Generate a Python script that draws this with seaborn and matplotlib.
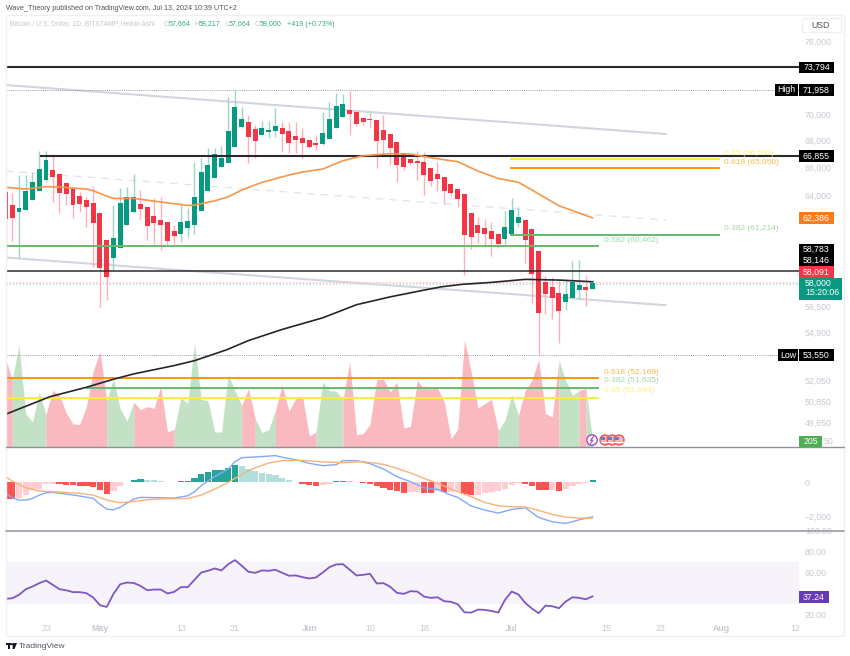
import matplotlib
matplotlib.use("Agg")
import matplotlib.pyplot as plt
from matplotlib.patches import Rectangle, Circle, Polygon
import seaborn as sns

# ---------- data ----------
opens = [64240,63285,62810,62950,63640,64310,65080,65810,65520,64885,64480,63905,63640,63405,62725,60860,59650,60305,61895,62810,63335,63165,62495,62260,62100,61480,
         61295,61690,61895,62880,64290,65245,66050,66350,67550,69075,69415,68875,68460,68665,68745,68950,68745,68355,68200,68050,67800,67750,68150,68950,69800,70370,
         70240,69770,69645,69590,68820,68490,67900,67050,66600,66500,66425,65935,65540,65320,64790,64455,64095,62700,61895,61665,61480,61255,60930,61275,62055,62260,
         61600,60105,58100,57735,57390,56795,57030,57540,57735,57664]
closes = [62310,62400,63090,64310,64960,65860,66550,65275,64165,64050,63305,63355,63165,62010,58990,58425,61015,63450,63855,63830,62980,61825,62010,61915,60810,61140,
          62100,62150,63855,65665,66200,66975,66675,68765,70630,69645,68300,67995,68950,68820,69130,68535,67850,68050,67800,67550,67700,68565,69690,70710,70845,70060,
          69280,69415,69565,67995,68050,67430,66180,66050,66350,66305,65445,65030,65130,64290,64120,63710,61225,61085,61365,61295,60950,60590,61755,62910,62425,60880,
          58580,56120,57305,57050,56245,57305,58080,57885,57540,58000]
highs = [64650,64145,65445,65445,65665,67225,67225,67000,65520,64885,64480,64240,63875,64670,62725,60860,63285,64505,64600,65495,64360,63165,63780,63875,62100,61895,
         63405,63050,66425,66675,67430,67450,67600,71420,71958,70630,69980,69205,69535,69535,70500,69460,69460,69460,68950,68050,68435,70240,71025,71695,71640,71900,
         70240,69770,70160,69590,69980,68490,67900,67050,66600,67250,67170,65935,66425,65320,64790,64455,64095,62700,62425,62290,62100,61255,62880,63760,63165,62260,
         61600,60105,58470,58385,58165,58275,59455,59500,58535,58217]
lows = [59650,60810,59650,62930,63640,64290,64935,63520,62745,63285,62400,62810,61780,59080,56500,56920,58860,60305,61895,62745,62290,60860,60590,60190,60460,60590,
        60745,61085,61275,62880,64240,65225,66030,66305,67550,68975,66305,66675,68435,68180,68300,67170,67100,67050,66600,67430,67300,67675,68100,68950,69800,68435,
        69130,69205,69075,65980,66795,66180,64960,65810,66180,65080,64000,64650,64290,63355,63925,63120,58535,60235,60680,60525,59790,60305,60590,61275,61735,59340,
        56710,53550,56040,55715,54275,56290,57030,57030,56560,57664]
volumes = [3530,2705,4065,1330,1000,2200,1295,2265,2065,1360,920,905,1625,3040,3825,1865,2730,1530,1025,1800,1495,1615,1545,2425,600,705,
           1975,1745,4130,1905,1855,600,600,2905,2240,1665,2335,1135,575,695,1465,2490,1440,1935,2040,440,600,2600,2255,2240,1905,3425,
           495,535,905,2695,2705,2200,2600,760,825,2665,2335,2335,2360,1800,335,705,4290,3000,1560,1735,1905,665,1065,2095,1265,2265,
           2665,3505,1335,1200,3465,2665,2065,2265,2335,205]
ma50_days = [0,3,6,8,12,13,15,16,19,22,25,27,28,31,33,35,38,42,44,47,50,53,57,60,63,67,70,73,76,78,82,87]
ma50 = [64555,64430,64600,64575,64430,64310,63925,63760,63760,63570,63385,63265,63285,63590,63875,64360,64915,65445,65665,65885,66500,66875,67020,67000,66720,66425,65735,65200,64915,64360,63240,62386]
ma200_days = [0,6.6,12,16,19,25,28,32.7,36,41,47,52,57,62,64.6,67.6,72,77,82,87]
ma200 = [50115,51110,51650,52115,52425,52915,53205,53845,54410,55093,55810,56630,57130,57560,57775,57930,58060,58255,58210,58100]
macd_hist = [-1000,-1000,-920,-760,-460,-360,-120,-80,-120,-160,-180,-200,-210,-260,-460,-660,-520,-240,20,160,220,140,120,80,40,20,
             80,100,280,480,620,720,740,860,1020,980,800,640,560,480,420,280,140,40,-80,-140,-200,-140,-80,60,100,60,
             20,-60,-100,-240,-320,-420,-520,-620,-560,-540,-600,-640,-520,-580,-540,-520,-700,-760,-720,-600,-540,-520,-400,-180,-40,-100,
             -220,-460,-470,-440,-500,-380,-220,-120,-40,130]
macd_days = [0,1,2,3,4,5,6,7,9,11,13,14,15,16,17,18,19,20,23,25,27,28,29,30,31,33,34,35,37,40,41,43,45,47,49,50,52,54,56,58,60,62,64,66,67,69,71,73,75,77,79,81,83,85,87]
macd_line = [-647,-900,-1040,-1040,-940,-745,-610,-590,-686,-800,-940,-1290,-1570,-1610,-1450,-1215,-980,-880,-900,-920,-785,-550,-195,80,335,785,1215,1450,1490,1570,1470,1330,1120,980,1040,1275,1275,1100,785,335,40,-315,-410,-745,-880,-1390,-1625,-1800,-1590,-1490,-2060,-2310,-2410,-2195,-2020]
signal_days = [0,1,3,5,8,11,13,15,17,19,22,25,27,29,31,33,35,37,39,41,44,47,50,53,56,58,60,62,64,67,69,71,73,75,77,79,81,83,85,87]
signal_line = [333,78,-314,-510,-568,-647,-745,-1040,-1196,-1117,-980,-960,-940,-745,-392,0,470,862,1137,1274,1294,1196,1156,1215,1058,823,549,235,-59,-549,-843,-1176,-1372,-1431,-1450,-1646,-1882,-2038,-2097,-2097]
rsi = [34.7,35.4,38.6,44,46.6,49.8,52.4,48.2,44,43,41.2,41.2,40.2,36,28.7,27,39.6,48.8,50.4,50,47.2,43,43.7,43.7,39.9,41.5,
       46,46,53,60,61.7,63.9,62,68,71.9,66.5,60.7,59.7,62,61.7,62.6,59.7,56.9,57.2,55.6,54.3,55.3,60,65.2,67.8,68,62.6,
       57.2,57.8,58.8,49.5,49.8,46.3,40.5,39.6,42.1,41.8,37,35.7,36.3,32.5,31.9,29.6,21.9,21.6,24.5,24.2,23.2,21.6,33.8,41.8,38.9,30.9,
       25.4,21,28.3,27.7,25.8,32.2,36.3,35.7,34.4,37.24]
days = list(range(len(closes)))

black_levels = [73794, 66855, 58783]
black_starts = [0, 5.1, 0]
black_widths = [1.5, 1.5, 1.1]
channel_upper = [72360, 68510]
channel_mid = [65740, 62240]
channel_lower = [59690, 56600]
channel_days = [0, 97.85]
fib_right_levels = [66592, 65950, 61214]
fib_right_colors = ["#ffeb3b", "#ff9800", "#66bb6a"]
fib_right_span = [74.7, 105.9]
fib_left_levels = [60462, 52169, 51635, 51044]
fib_left_colors = ["#66bb6a", "#ff9800", "#66bb6a", "#ffeb3b"]
fib_left_starts = [0, 0, 12, 0]
fib_left_end = 87.9
price_ticks = [76000, 70000, 68000, 66000, 64000, 56500, 54900, 52050, 50850, 49650]
macd_ticks = [0, -2000]
rsi_ticks = [100, 80, 60, 20]
date_ticks = [6, 14, 26, 34, 45, 54, 62, 75, 89, 97, 106, 117]
date_labels = ["23", "May", "13", "21", "Jun", "10", "18", "Jul", "15", "23", "Aug", "12"]

# ---------- style ----------
UP, DOWN = "#089981", "#f23645"
UP_WICK, DOWN_WICK = "#9ad6cb", "#fbb0b7"
PALE = "#c6c9d1"
FONT = "Liberation Sans"
TICK = 6.3
sns.set_theme(style="white", rc={"font.family": FONT, "axes.facecolor": "none"})

W, H = 850, 656
fig = plt.figure(figsize=(W / 100, H / 100), dpi=100, facecolor="white")

def pane(x0, y0, x1, y1):
    return fig.add_axes([x0 / W, 1 - y1 / H, (x1 - x0) / W, (y1 - y0) / H])

XLIM = (0.074, 117.56)
ax_vol = pane(6, 15, 799, 447)
ax = pane(6, 15, 799, 447)
ax_macd = pane(6, 447.5, 799, 530.7)
ax_rsi = pane(6, 530.7, 799, 620)

for a in (ax_vol, ax, ax_macd, ax_rsi):
    a.set_xlim(*XLIM)
    a.patch.set_alpha(0)
    sns.despine(ax=a, left=True, bottom=True, right=True, top=True)
    a.tick_params(length=0, labelsize=TICK, colors=PALE, pad=4.3)
    a.grid(False)

# volume: one filled shape per run of same-direction days, so no seams show
ax_vol.set_ylim(0, 17280)
ax_vol.set_xticks([])
ax_vol.set_yticks([])
run_start = 0
for i in range(1, len(days) + 1):
    if i == len(days) or (closes[i] >= opens[i]) != (closes[run_start + 1] >= opens[run_start + 1]):
        up_run = closes[run_start + 1] >= opens[run_start + 1]
        ax_vol.fill_between(days[run_start:i], volumes[run_start:i], 0,
                            color="#c3e1c4" if up_run else "#f9b9bf", lw=0)
        run_start = i - 1

# price
ax.set_yscale("log")
ax.set_ylim(48320, 78236)
ax.minorticks_off()
ax.yaxis.tick_right()
ax.set_yticks(price_ticks)
ax.set_yticklabels([f"{v:,}" for v in price_ticks])
ax.minorticks_off()
ax.set_xticks([])

for i in days:
    up = closes[i] >= opens[i]
    ax.vlines(i, lows[i], highs[i], color=UP_WICK if up else DOWN_WICK, lw=1.0, zorder=3)
    lo, hi = sorted((opens[i], closes[i]))
    ax.bar(i, hi - lo, bottom=lo, width=0.74, color=UP if up else DOWN, lw=0, zorder=4)

sns.lineplot(x=channel_days, y=channel_upper, ax=ax, color="#d3d5de", lw=1.5, zorder=2)
sns.lineplot(x=channel_days, y=channel_lower, ax=ax, color="#d3d5de", lw=1.5, zorder=2)
ax.plot(channel_days, channel_mid, color="#e2e3e8", lw=0.9, ls=(0, (6, 5)), zorder=2)

for lvl, st, lw in zip(black_levels, black_starts, black_widths):
    ax.hlines(lvl, st, XLIM[1], color="#2a2a2e", lw=lw, zorder=5)
ax.hlines([71958, 53550], XLIM[0], XLIM[1], color="#9a9ca3", lw=0.7, ls=(0, (1, 1.2)), zorder=2)
ax.hlines(58000, XLIM[0], XLIM[1], color="#f6c6cb", lw=1.2, ls=(0, (1, 1)), zorder=2)
ax.hlines(57985, XLIM[0], XLIM[1], color="#bfe3dc", lw=0.8, ls=(0, (1, 2)), zorder=2)

for lvl, c in zip(fib_right_levels, fib_right_colors):
    ax.hlines(lvl, fib_right_span[0], fib_right_span[1], color=c, lw=1.4, zorder=5)
for lvl, c, st in zip(fib_left_levels, fib_left_colors, fib_left_starts):
    ax.hlines(lvl, st, fib_left_end, color=c, lw=1.4, zorder=5)

sns.lineplot(x=ma200_days, y=ma200, ax=ax, color="#26262a", lw=1.2, zorder=6)
sns.lineplot(x=ma50_days, y=ma50, ax=ax, color="#f7964a", lw=1.2, zorder=6)

# MACD
ax_macd.set_ylim(-2835, 2046)
ax_macd.yaxis.tick_right()
ax_macd.set_yticks(macd_ticks)
ax_macd.set_yticklabels(["0", "\u22122,000"])
ax_macd.set_xticks([])
bar_cols = []
for i, v in enumerate(macd_hist):
    rising = i > 0 and v > macd_hist[i - 1]
    if v >= 0:
        bar_cols.append("#26a69a" if rising else "#b2dfdb")
    else:
        bar_cols.append("#ffcdd2" if rising else "#ff5252")
ax_macd.bar(days, macd_hist, width=0.9, color=bar_cols, lw=0, zorder=2)
sns.lineplot(x=macd_days, y=macd_line, ax=ax_macd, color="#86a9f5", lw=1.0, zorder=3)
sns.lineplot(x=signal_days, y=signal_line, ax=ax_macd, color="#f9b27a", lw=1.0, zorder=3)

# RSI
ax_rsi.set_ylim(14.5, 100.1)
ax_rsi.axhspan(30, 70, color="#f6f3fb", lw=0, zorder=1)
sns.lineplot(x=days, y=rsi, ax=ax_rsi, color="#7e57c2", lw=1.3, zorder=3)
ax_rsi.yaxis.tick_right()
ax_rsi.set_yticks(rsi_ticks)
ax_rsi.set_yticklabels([f"{v:.2f}" for v in rsi_ticks])
ax_rsi.set_xticks(date_ticks)
ax_rsi.set_xticklabels(date_labels, fontsize=TICK)
for lab, txt_ in zip(ax_rsi.get_xticklabels(), date_labels):
    if txt_ in ("May", "Jun", "Jul", "Aug"):
        lab.set_fontweight("bold")
ax_rsi.tick_params(axis="x", pad=3)
ax_rsi.set_xlabel("")
ax_rsi.set_ylabel("")
for a in (ax, ax_macd):
    a.set_xlabel("")
    a.set_ylabel("")

# ---------- overlay in pixel space: frame, tags, captions ----------
ov = fig.add_axes([0, 0, 1, 1], zorder=20)
ov.set_xlim(0, W)
ov.set_ylim(H, 0)
ov.axis("off")
ov.patch.set_alpha(0)

ov.add_patch(Rectangle((6, 15), 838, 621, fill=False, ec="#eef0f4", lw=1))
ov.plot([6, 844], [447.3, 447.3], color="#8d9099", lw=1)
ov.plot([6, 844], [530.7, 530.7], color="#9a9da5", lw=1.2)

def txt(x, y, s, color=PALE, size=TICK, ha="left", **kw):
    ov.text(x, y, s, color=color, fontsize=size, ha=ha, va="center", **kw)

def tag(x0, x1, yc, s, bg="#000000", fg="white", h=11.5):
    ov.add_patch(Rectangle((x0, yc - h / 2), x1 - x0, h, fc=bg, ec="none", zorder=5))
    ov.text((x0 + x1) / 2, yc, s, color=fg, fontsize=TICK, ha="center", va="center", zorder=6)

txt(6, 9, "Wave_Theory published on TradingView.com, Jul 13, 2024 10:39 UTC+2", color="#50535e", size=5.1)
txt(10, 24, "Bitcoin / U.S. Dollar, 1D, BITSTAMP, Heikin Ashi", color="#c3c6ce", size=4.85)
OHLC = "#2fa98f"
for x, xv, label, val in [(164, 169, "O", "57,664"), (194.5, 199, "H", "58,217"), (225, 229, "L", "57,664"), (255, 260, "C", "58,000")]:
    txt(x, 24, label, color="#c3c6ce", size=5.1)
    txt(xv, 24, val, color=OHLC, size=5.1)
txt(287, 24, "+419 (+0.73%)", color=OHLC, size=5.1)

ov.add_patch(Rectangle((802, 18), 39, 14, fc="white", ec="#eef0f4", lw=1, zorder=5))
ov.text(821, 25, "USD", color="#50535e", fontsize=TICK, ha="center", va="center", zorder=6)

tag(799, 834, 67.7, "73,794")
tag(775, 798, 90, "High")
tag(799, 834, 90, "71,958")
tag(799, 834, 156, "66,855")
tag(799, 834, 218, "62,386", bg="#f57c1f")
tag(799, 834, 249.5, "58,783")
tag(799, 834, 260.5, "58,146")
tag(799, 834, 272, "58,091", bg="#f23645")
ov.add_patch(Rectangle((799, 278), 43, 21.5, fc="#089981", ec="none", zorder=5))
ov.text(805, 283.5, "58,000", color="white", fontsize=TICK, va="center", zorder=6)
ov.text(805, 292.5, "15:20:06", color="white", fontsize=TICK, va="center", zorder=6)
tag(778, 798, 355, "Low")
tag(799, 834, 355, "53,550")
tag(799, 822, 441.5, "205", bg="#4caf50")
txt(823.5, 441.5, "50")
tag(799, 829, 597, "37.24", bg="#673ab7")

txt(724, 153.5, "0.65 (66,592)", color="#fff176", size=6)
txt(724, 162, "0.618 (65,950)", color="#ffb74d", size=6)
txt(724, 229, "0.382 (61,214)", color="#a5d6a7", size=6)
txt(603.7, 240, "0.382 (60,462)", color="#a5d6a7", size=6)
txt(603.7, 372, "0.618 (52,169)", color="#ffb74d", size=6)
txt(603.7, 381, "0.382 (51,635)", color="#a5d6a7", size=6)
txt(603.7, 391, "0.65 (51,044)", color="#fff176", size=6)

# event badges
ov.add_patch(Circle((592, 440), 5.2, fc="white", ec="#ab47bc", lw=1, zorder=7))
ov.plot([593.5, 590.5, 593, 590.5], [436.5, 440.5, 440, 443.5], color="#ab47bc", lw=0.8, zorder=8)
for cx in (605, 612, 619):
    ov.add_patch(Circle((cx, 440), 5, fc="#f7b7bb", ec="#ef5350", lw=1, zorder=7))
    ov.add_patch(Rectangle((cx - 4, 436.5), 4, 3, fc="#5c7fd6", ec="none", zorder=8))
    ov.plot([cx - 4, cx + 4], [441.5, 441.5], color="white", lw=0.8, zorder=8)

# footer logo
ov.add_patch(Rectangle((6, 643), 5, 2.2, fc="#131722", ec="none"))
ov.add_patch(Rectangle((8, 643), 2.2, 6, fc="#131722", ec="none"))
ov.add_patch(Circle((12, 644.2), 1.1, fc="#131722", ec="none"))
ov.add_patch(Polygon([(13, 643), (17, 643), (14.5, 649), (12.5, 649)], fc="#131722", ec="none"))
txt(19, 646.5, "TradingView", color="#50535e", size=6)

fig.savefig("out.png", dpi=100, facecolor="white")
